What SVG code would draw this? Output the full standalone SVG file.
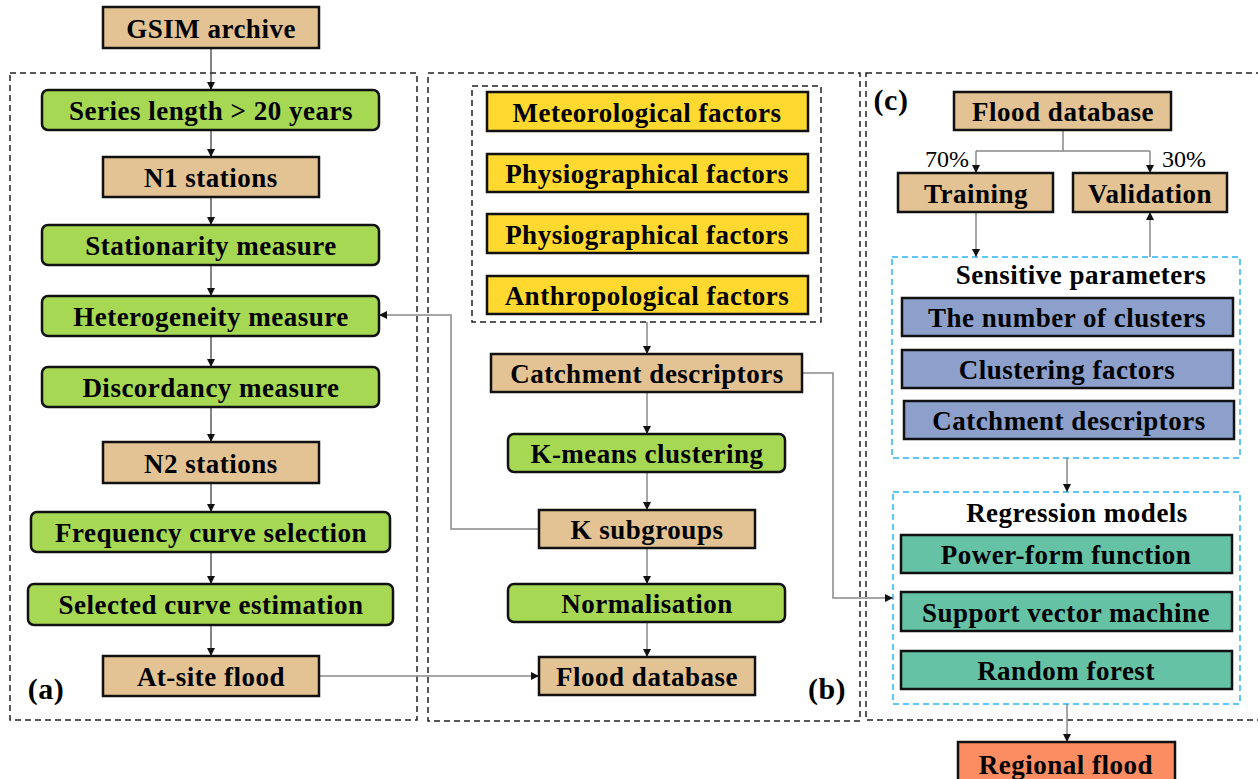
<svg xmlns="http://www.w3.org/2000/svg" width="1258" height="779" viewBox="0 0 1258 779">
<defs>
<marker id="ah" viewBox="0 0 10 10" refX="10" refY="5" markerWidth="8" markerHeight="8" markerUnits="userSpaceOnUse" orient="auto">
<path d="M0,0 L10,5 L0,10 z" fill="#111"/>
</marker>
</defs>
<style>
text{font-family:"Liberation Serif","Times New Roman",serif;font-weight:bold;font-size:27px;letter-spacing:0.5px;fill:#000;text-anchor:middle}
.pct{font-weight:normal;font-size:24px;letter-spacing:0}
.lbl{font-size:30px}
.tan{fill:#E3C394;stroke:#111;stroke-width:2.5}
.grn{fill:#A6D854;stroke:#111;stroke-width:2.5}
.yel{fill:#FFD92F;stroke:#111;stroke-width:2.5}
.blu{fill:#8DA0CB;stroke:#111;stroke-width:2.5}
.teal{fill:#66C2A5;stroke:#111;stroke-width:2.5}
.org{fill:#FC8D62;stroke:#111;stroke-width:2.5}
.panel{fill:none;stroke:#222;stroke-width:1.5;stroke-dasharray:6,4}
.cyan{fill:none;stroke:#29B6F6;stroke-width:1.5;stroke-dasharray:6,4}
.c{fill:none;stroke:#333;stroke-width:1.2;marker-end:url(#ah)}
.g{fill:none;stroke:#888;stroke-width:1.5;marker-end:url(#ah)}
.gl{fill:none;stroke:#888;stroke-width:1.5}
</style>

<g id="panels">
<rect class="panel" x="10" y="73" width="407" height="647"/>
<rect class="panel" x="428" y="73" width="432" height="648"/>
<rect class="panel" x="866" y="73" width="400" height="647"/>
<rect class="panel" x="472" y="86" width="349" height="236"/>
<rect class="cyan" x="892" y="257" width="348" height="201"/>
<rect class="cyan" x="893" y="492" width="347" height="212"/>
<text class="lbl" x="46" y="699">(a)</text>
<text class="lbl" x="827" y="699">(b)</text>
<text class="lbl" x="891" y="110">(c)</text>
<text x="1081" y="284">Sensitive parameters</text>
<text x="1077" y="522">Regression models</text>
</g>

<g id="connectors">
<path class="c" d="M211,48 V90"/>
<path class="c" d="M211,130 V157"/>
<path class="c" d="M211,197 V225"/>
<path class="c" d="M211,265 V296"/>
<path class="c" d="M211,336 V367"/>
<path class="c" d="M211,407 V442"/>
<path class="c" d="M211,483 V512"/>
<path class="c" d="M211,552 V584"/>
<path class="c" d="M211,625 V656"/>
<path class="g" d="M319,676 H539"/>
<path class="g" d="M647,322 V354"/>
<path class="g" d="M647,392 V434"/>
<path class="g" d="M647,472 V510"/>
<path class="g" d="M647,548 V584"/>
<path class="g" d="M647,622 V657"/>
<path class="g" d="M539,529 H451 V315 H379"/>
<path class="g" d="M802,373 H833 V598 H893"/>
<path class="gl" d="M1063,130 V151 M976,151 H1150"/>
<path class="g" d="M976,151 V173"/>
<path class="g" d="M1150,151 V173"/>
<path class="g" d="M976,212 V257"/>
<path class="g" d="M1150,257 V212"/>
<path class="g" d="M1067,458 V492"/>
<path class="g" d="M1067,704 V742"/>
<text class="pct" x="947" y="167">70%</text>
<text class="pct" x="1184" y="167">30%</text>
</g>

<g id="n-gsim"><rect class="tan" x="103" y="7" width="216" height="41"/><text x="211" y="38">GSIM archive</text></g>
<g id="n-series"><rect class="grn" x="42" y="90" width="337" height="40" rx="6"/><text x="211" y="120">Series length &gt; 20 years</text></g>
<g id="n-n1"><rect class="tan" x="103" y="157" width="216" height="40"/><text x="211" y="187">N1 stations</text></g>
<g id="n-stat"><rect class="grn" x="42" y="225" width="337" height="40" rx="6"/><text x="211" y="255">Stationarity measure</text></g>
<g id="n-het"><rect class="grn" x="42" y="296" width="337" height="40" rx="6"/><text x="211" y="326">Heterogeneity measure</text></g>
<g id="n-disc"><rect class="grn" x="42" y="367" width="337" height="40" rx="6"/><text x="211" y="397">Discordancy measure</text></g>
<g id="n-n2"><rect class="tan" x="103" y="442" width="216" height="41"/><text x="211" y="473">N2 stations</text></g>
<g id="n-freq"><rect class="grn" x="31" y="512" width="359" height="40" rx="6"/><text x="211" y="542">Frequency curve selection</text></g>
<g id="n-sel"><rect class="grn" x="28" y="584" width="365" height="41" rx="6"/><text x="211" y="614">Selected curve estimation</text></g>
<g id="n-atsite"><rect class="tan" x="103" y="656" width="216" height="40"/><text x="211" y="686">At-site flood</text></g>

<g id="n-met"><rect class="yel" x="487" y="92" width="321" height="39"/><text x="647" y="122">Meteorological factors</text></g>
<g id="n-phys1"><rect class="yel" x="487" y="154" width="321" height="38"/><text x="647" y="183">Physiographical factors</text></g>
<g id="n-phys2"><rect class="yel" x="487" y="214" width="321" height="39"/><text x="647" y="244">Physiographical factors</text></g>
<g id="n-anth"><rect class="yel" x="487" y="276" width="321" height="38"/><text x="647" y="305">Anthropological factors</text></g>
<g id="n-catch"><rect class="tan" x="491" y="354" width="311" height="38"/><text x="647" y="383">Catchment descriptors</text></g>
<g id="n-kmeans"><rect class="grn" x="508" y="434" width="277" height="38" rx="6"/><text x="647" y="463">K-means clustering</text></g>
<g id="n-ksub"><rect class="tan" x="539" y="510" width="216" height="38"/><text x="647" y="539">K subgroups</text></g>
<g id="n-norm"><rect class="grn" x="508" y="584" width="277" height="38" rx="6"/><text x="647" y="613">Normalisation</text></g>
<g id="n-fdb-b"><rect class="tan" x="539" y="657" width="216" height="38"/><text x="647" y="686">Flood database</text></g>

<g id="n-fdb-c"><rect class="tan" x="954" y="92" width="217" height="38"/><text x="1063" y="121">Flood database</text></g>
<g id="n-train"><rect class="tan" x="898" y="173" width="155" height="39"/><text x="976" y="203">Training</text></g>
<g id="n-valid"><rect class="tan" x="1073" y="173" width="154" height="39"/><text x="1150" y="203">Validation</text></g>
<g id="n-nclust"><rect class="blu" x="902" y="298" width="331" height="38"/><text x="1067" y="327">The number of clusters</text></g>
<g id="n-cfact"><rect class="blu" x="902" y="350" width="331" height="38"/><text x="1067" y="379">Clustering factors</text></g>
<g id="n-cdesc"><rect class="blu" x="904" y="401" width="330" height="38"/><text x="1069" y="430">Catchment descriptors</text></g>
<g id="n-power"><rect class="teal" x="901" y="535" width="331" height="38"/><text x="1066" y="564">Power-form function</text></g>
<g id="n-svm"><rect class="teal" x="901" y="592" width="331" height="39"/><text x="1066" y="622">Support vector machine</text></g>
<g id="n-rf"><rect class="teal" x="901" y="651" width="331" height="38"/><text x="1066" y="680">Random forest</text></g>
<g id="n-regional"><rect class="org" x="958" y="742" width="217" height="45"/><text x="1066" y="774">Regional flood</text></g>
</svg>
